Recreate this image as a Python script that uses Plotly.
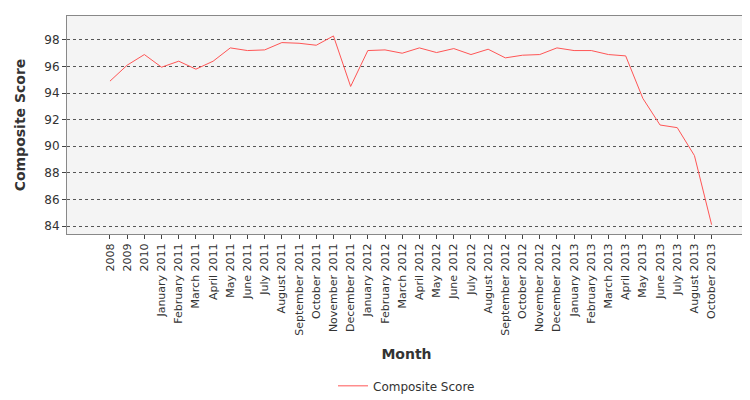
import plotly.graph_objects as go

months = ["2008", "2009", "2010"]
for yr in ["2011", "2012"]:
    for m in ["January", "February", "March", "April", "May", "June", "July",
              "August", "September", "October", "November", "December"]:
        months.append(f"{m} {yr}")
months += ["January 2013", "February 2013", "March 2013", "April 2013", "May 2013",
           "June 2013", "July 2013", "August 2013", "October 2013"]

scores = [94.9, 96.1, 96.9,
          95.95, 96.4, 95.8, 96.4, 97.4, 97.2, 97.25, 97.8, 97.75, 97.6, 98.3, 94.5,
          97.2, 97.25, 97.0, 97.4, 97.05, 97.35, 96.9, 97.3, 96.65, 96.85, 96.9, 97.4,
          97.2, 97.2, 96.9, 96.8, 93.6, 91.6, 91.4, 89.3, 84.1]

fig = go.Figure()
fig.add_trace(go.Scatter(
    x=months, y=scores, mode="lines", name="Composite Score",
    line=dict(color="#ff5555", width=1),
))

fig.update_layout(
    width=750, height=400,
    margin=dict(l=59, r=12, t=8, b=167),
    plot_bgcolor="#f4f4f4", paper_bgcolor="white",
    font=dict(family="DejaVu Sans", size=12, color="#333"),
    showlegend=True,
    legend=dict(orientation="h", x=0.5, xanchor="center", y=-0.63, yanchor="top",
                font=dict(size=12)),
    xaxis=dict(
        title=dict(text="<b>Month</b>", font=dict(size=14), standoff=14),
        tickangle=-90, showgrid=False, ticks="outside", ticklen=4,
        tickfont=dict(size=11), automargin=False,
        showline=True, linecolor="#888", mirror=True,
        range=[-2.5, 37.0],
    ),
    yaxis=dict(
        title=dict(text="<b>Composite Score</b>", font=dict(size=14)),
        range=[83.4, 99.8], dtick=2, ticks="outside", ticklen=4,
        tickfont=dict(size=12), automargin=False,
        showgrid=True, gridcolor="#555", griddash="dot", gridwidth=1,
        showline=True, linecolor="#888", mirror=True, zeroline=False,
    ),
)

fig.write_html("out.html")
